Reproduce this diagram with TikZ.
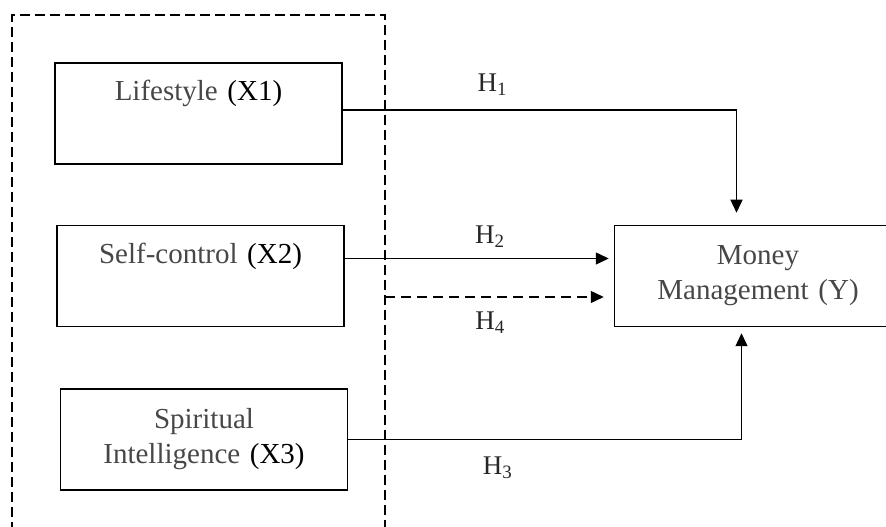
\documentclass[tikz,border=0pt]{standalone}
\usepackage{fontspec}
\setmainfont{Liberation Serif}
\usetikzlibrary{positioning,arrows.meta}
\definecolor{txtgray}{HTML}{474747}

\begin{document}
\begin{tikzpicture}[
    x=1pt, y=1pt,
    node distance=60pt and 269pt,
    block/.style={draw, rectangle, line width=1.5pt, minimum height=101pt, minimum width=287pt, text width=280pt, align=center, text=txtgray, font=\fontsize{29}{35}\selectfont},
    arrow/.style={line width=1.4pt, -{Triangle[length=13pt,width=12pt]}},
    dasharrow/.style={arrow, dash pattern=on 10pt off 6pt},
    frame/.style={line width=1.4pt, dash pattern=on 10pt off 5pt},
    hyp/.style={font=\fontsize{27}{30}\selectfont, text=black!85}
]
  \useasboundingbox (0,0) rectangle (886,527);

  % dashed frame round the independent variables
  \draw[frame] (12,-5) |- (385,512) -- (385,-5);
  \coordinate (frameNE) at (385,512);

  % Nodes
  \node (life) [block] at (198.5,413.5) {Lifestyle \textcolor{black}{(X1)}\\ \strut};
  \node (ctrl) [block, below=60pt of life, xshift=2pt] {Self-control \textcolor{black}{(X2)}\\ \strut};
  \node (spirit) [block, below=61pt of ctrl, xshift=3.5pt] {Spiritual\\ Intelligence \textcolor{black}{(X3)}};
  \node (money) [block, right=269pt of ctrl] {Money\\ Management (Y)};

  % Arrows
  \draw [arrow] ([yshift=3.5pt]life.east) -| ([xshift=-21.5pt,yshift=12pt]money.north)
    node [hyp, pos=0.19, yshift=25pt] {H\textsubscript{1}};
  \draw [arrow] ([yshift=17.5pt]ctrl.east) -- ([yshift=17.5pt,xshift=-5pt]money.west)
    node [hyp, pos=0.55, yshift=22pt] {H\textsubscript{2}};
  \coordinate (h4end) at ([yshift=-21pt,xshift=-10pt]money.west);
  \draw [dasharrow] (frameNE |- h4end) -- (h4end)
    node [hyp, pos=0.48, yshift=-26pt] {H\textsubscript{4}};
  \draw [arrow] (spirit.east) -| ([xshift=-16.5pt,yshift=-6pt]money.south)
    node [hyp, pos=0.19, yshift=-28pt] {H\textsubscript{3}};
\end{tikzpicture}
\end{document}
